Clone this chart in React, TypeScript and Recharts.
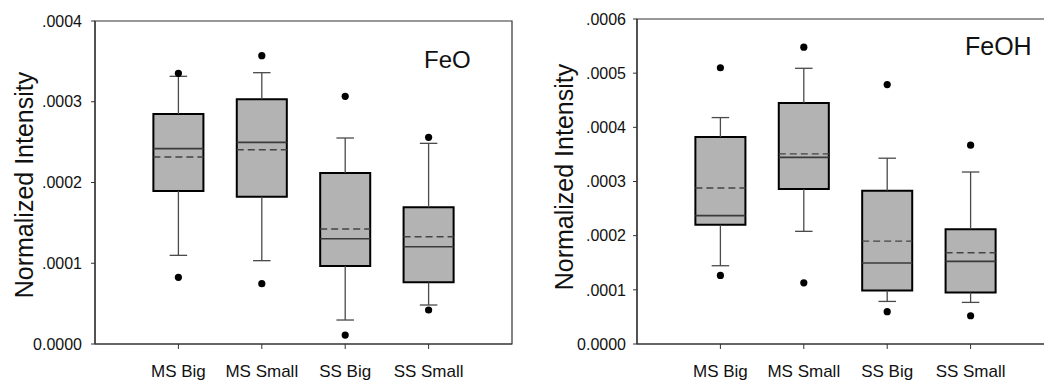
import React from "react";
import { ComposedChart, XAxis, YAxis, ReferenceArea, ReferenceLine, Scatter } from "recharts";

const categories = ["MS Big", "MS Small", "SS Big", "SS Small"];
const categoryPositions = [1, 2, 3, 4];

// FeO panel
const feoWhiskerLow = [0.0001098, 0.0001032, 0.0000297, 0.0000483];
const feoQ1 = [0.0001895, 0.0001824, 0.0000966, 0.0000764];
const feoMedian = [0.0002419, 0.0002497, 0.0001304, 0.0001205];
const feoMean = [0.0002316, 0.0002406, 0.0001424, 0.0001329];
const feoQ3 = [0.0002848, 0.000303, 0.0002118, 0.0001693];
const feoWhiskerHigh = [0.0003315, 0.000336, 0.0002551, 0.0002485];
const feoOutlierLow = [0.0000826, 0.0000747, 0.0000111, 0.0000421];
const feoOutlierHigh = [0.0003352, 0.000357, 0.0003067, 0.000256];
const feoTicks = [0, 0.0001, 0.0002, 0.0003, 0.0004];

// FeOH panel
const feohWhiskerLow = [0.0001445, 0.000208, 0.0000786, 0.0000768];
const feohQ1 = [0.00022, 0.000286, 0.000099, 0.0000953];
const feohMedian = [0.000237, 0.0003445, 0.0001495, 0.0001525];
const feohMean = [0.000288, 0.000351, 0.00019, 0.0001685];
const feohQ3 = [0.000382, 0.000445, 0.000283, 0.000212];
const feohWhiskerHigh = [0.000418, 0.000509, 0.000343, 0.0003175];
const feohOutlierLow = [0.0001266, 0.000113, 0.0000596, 0.0000522];
const feohOutlierHigh = [0.00051, 0.000548, 0.000479, 0.000367];
const feohTicks = [0, 0.0001, 0.0002, 0.0003, 0.0004, 0.0005, 0.0006];

const FONT = "'Liberation Sans', Arial, sans-serif";
const BOX_HALF = 0.3;
const CAP_HALF = 0.105;

type Stats = {
  lo: number[]; q1: number[]; med: number[]; mean: number[]; q3: number[]; hi: number[];
  outLo: number[]; outHi: number[];
};

const fmtY = (v: number) => (v === 0 ? "0.0000" : v.toFixed(4).replace(/^0/, ""));

function BoxPanel(props: {
  width: number; height: number; top: number; right: number; yAxisWidth: number;
  yTicks: number[]; stats: Stats; yTickMargin: number;
}) {
  const { width, height, top, right, yAxisWidth, yTicks, stats, yTickMargin } = props;
  const yMax = yTicks[yTicks.length - 1];
  const outliers = categoryPositions.flatMap((x, i) => [
    { x, y: stats.outLo[i] },
    { x, y: stats.outHi[i] },
  ]);
  const seg = (x1: number, y1: number, x2: number, y2: number) => [
    { x: x1, y: y1 },
    { x: x2, y: y2 },
  ];
  const elements: React.ReactNode[] = [];
  categoryPositions.forEach((x, i) => {
    elements.push(
      <ReferenceLine key={`wu${i}`} segment={seg(x, stats.q3[i], x, stats.hi[i])} stroke="#4a4a4a" strokeWidth={1.3} ifOverflow="visible" />,
      <ReferenceLine key={`wl${i}`} segment={seg(x, stats.lo[i], x, stats.q1[i])} stroke="#4a4a4a" strokeWidth={1.3} ifOverflow="visible" />,
      <ReferenceLine key={`cu${i}`} segment={seg(x - CAP_HALF, stats.hi[i], x + CAP_HALF, stats.hi[i])} stroke="#4a4a4a" strokeWidth={1.3} ifOverflow="visible" />,
      <ReferenceLine key={`cl${i}`} segment={seg(x - CAP_HALF, stats.lo[i], x + CAP_HALF, stats.lo[i])} stroke="#4a4a4a" strokeWidth={1.3} ifOverflow="visible" />,
      <ReferenceArea key={`b${i}`} x1={x - BOX_HALF} x2={x + BOX_HALF} y1={stats.q1[i]} y2={stats.q3[i]} fill="#b3b3b3" fillOpacity={1} stroke="#000" strokeWidth={2} ifOverflow="visible" />,
      <ReferenceLine key={`m${i}`} segment={seg(x - BOX_HALF, stats.med[i], x + BOX_HALF, stats.med[i])} stroke="#3a3a3a" strokeWidth={1.6} ifOverflow="visible" />,
      <ReferenceLine key={`a${i}`} segment={seg(x - BOX_HALF, stats.mean[i], x + BOX_HALF, stats.mean[i])} stroke="#444" strokeWidth={1.4} strokeDasharray="7 4" ifOverflow="visible" />
    );
  });
  return (
    <ComposedChart width={width} height={height} margin={{ top, right, bottom: 0, left: 0 }}>
      <XAxis
        type="number"
        dataKey="x"
        domain={[0, 5]}
        ticks={categoryPositions}
        interval={0}
        allowDataOverflow
        tickFormatter={(v: number) => categories[v - 1] ?? ""}
        height={37}
        tickSize={5}
        tickMargin={16}
        axisLine={{ stroke: "#333", strokeWidth: 1.2 }}
        tickLine={{ stroke: "#333" }}
        tick={{ fontSize: 17, fill: "#111", fontFamily: FONT }}
      />
      <YAxis
        type="number"
        domain={[0, yMax]}
        ticks={yTicks}
        interval={0}
        allowDataOverflow
        tickFormatter={fmtY}
        width={yAxisWidth}
        tickSize={4}
        tickMargin={yTickMargin}
        axisLine={{ stroke: "#333", strokeWidth: 1.2 }}
        tickLine={{ stroke: "#333" }}
        tick={{ fontSize: 16, fill: "#111", fontFamily: FONT }}
      />
      <ReferenceArea x1={0} x2={5} y1={0} y2={yMax} fill="none" stroke="#333" strokeWidth={1.2} ifOverflow="visible" />
      {elements}
      <Scatter
        data={outliers}
        dataKey="y"
        isAnimationActive={false}
        shape={(p: any) => <circle cx={p.cx} cy={p.cy} r={3.6} fill="#000" />}
      />
    </ComposedChart>
  );
}

const feoStats: Stats = {
  lo: feoWhiskerLow, q1: feoQ1, med: feoMedian, mean: feoMean, q3: feoQ3, hi: feoWhiskerHigh,
  outLo: feoOutlierLow, outHi: feoOutlierHigh,
};
const feohStats: Stats = {
  lo: feohWhiskerLow, q1: feohQ1, med: feohMedian, mean: feohMean, q3: feohQ3, hi: feohWhiskerHigh,
  outLo: feohOutlierLow, outHi: feohOutlierHigh,
};

export default function App() {
  return (
    <div style={{ position: "absolute", left: 0, top: 0, width: 1044, height: 381, overflow: "hidden", background: "#fff" }}>
      <div style={{ position: "absolute", left: 0, top: 0 }}>
        <BoxPanel width={530} height={381} top={21} right={18} yAxisWidth={95} yTicks={feoTicks} stats={feoStats} yTickMargin={9} />
      </div>
      <div style={{ position: "absolute", left: 530, top: 0 }}>
        <BoxPanel width={530} height={381} top={19} right={6} yAxisWidth={107} yTicks={feohTicks} stats={feohStats} yTickMargin={7} />
      </div>
      <svg width={1044} height={381} style={{ position: "absolute", left: 0, top: 0, pointerEvents: "none" }}>
        <text x={33} y={185} transform="rotate(-90, 33, 185)" textAnchor="middle" fontSize={25} fontFamily={FONT} fill="#111">
          Normalized Intensity
        </text>
        <text x={573} y={177} transform="rotate(-90, 573, 177)" textAnchor="middle" fontSize={25} fontFamily={FONT} fill="#111">
          Normalized Intensity
        </text>
        <text x={424} y={68} fontSize={24} fontFamily={FONT} fill="#111">FeO</text>
        <text x={965} y={55} fontSize={25} fontFamily={FONT} fill="#111">FeOH</text>
      </svg>
    </div>
  );
}
